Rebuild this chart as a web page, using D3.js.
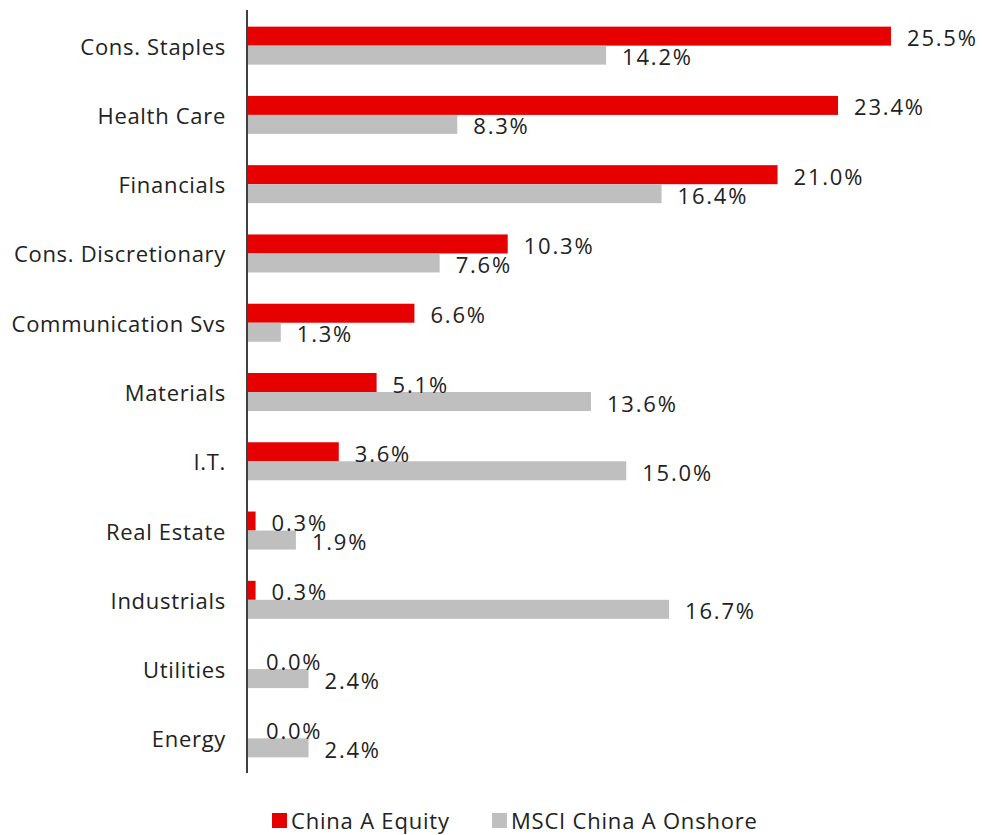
<!DOCTYPE html>
<html>
<head>
<meta charset="utf-8">
<script src="https://cdn.jsdelivr.net/npm/d3@7"></script>
<style>
  body { margin: 0; background: #fff; }
  text { font-family: "Open Sans", sans-serif; fill: #222; }
</style>
</head>
<body>
<div id="chart"></div>
<script>
// sector weights, fund vs benchmark
let categories = ["Cons. Staples", "Health Care", "Financials", "Cons. Discretionary",
    "Communication Svs", "Materials", "I.T.", "Real Estate", "Industrials", "Utilities", "Energy"];
let seriesNames = ["China A Equity", "MSCI China A Onshore"];
let fundValues = [25.5, 23.4, 21.0, 10.3, 6.6, 5.1, 3.6, 0.3, 0.3, 0.0, 0.0];
let benchValues = [14.2, 8.3, 16.4, 7.6, 1.3, 13.6, 15.0, 1.9, 16.7, 2.4, 2.4];
let colors = ["#e60000", "#bfbfbf"];

let width = 982, height = 835;
let svg = d3.select("#chart").append("svg")
    .attr("width", width)
    .attr("height", height);

let x = d3.scaleLinear().domain([0, 25.5]).range([248, 891]);
let y = d3.scaleBand().domain(categories).range([11, 773]);
let barH = 19;
let sub = d3.scaleBand().domain(seriesNames).range([-barH, barH]);

let rows = categories.map((c, i) => ({ cat: c, vals: [fundValues[i], benchValues[i]] }));

let groups = svg.selectAll("g.row")
    .data(rows)
    .enter()
    .append("g")
    .attr("class", "row")
    .attr("transform", d => `translate(0,${y(d.cat) + y.bandwidth() / 2})`);

groups.selectAll("rect")
    .data(d => d.vals.map((v, j) => ({ name: seriesNames[j], v: v, j: j })))
    .enter()
    .append("rect")
    .attr("x", x(0))
    .attr("y", d => sub(d.name))
    .attr("width", d => x(d.v) - x(0))
    .attr("height", sub.bandwidth())
    .attr("fill", d => colors[d.j]);

groups.selectAll("text.val")
    .data(d => d.vals.map((v, j) => ({ name: seriesNames[j], v: v })))
    .enter()
    .append("text")
    .attr("class", "val")
    .attr("x", d => x(d.v) + (d.v === 0 ? 18 : 16))
    .attr("y", d => sub(d.name) + sub.bandwidth() / 2 + 1)
    .attr("dominant-baseline", "central")
    .attr("font-size", 22)
    .attr("letter-spacing", 1.8)
    .text(d => d.v.toFixed(1) + "%");

// category labels
groups.append("text")
    .attr("x", 226)
    .attr("y", 0)
    .attr("text-anchor", "end")
    .attr("dominant-baseline", "central")
    .attr("font-size", 22)
    .attr("letter-spacing", 0.7)
    .text(d => d.cat);

// vertical axis line
svg.append("line")
    .attr("x1", 247).attr("x2", 247)
    .attr("y1", 10).attr("y2", 773)
    .attr("stroke", "#404040")
    .attr("stroke-width", 2);

// legend
let legendX = [272, 492];
let legend = svg.selectAll("g.legend")
    .data(seriesNames)
    .enter()
    .append("g")
    .attr("class", "legend")
    .attr("transform", (d, i) => `translate(${legendX[i]},819)`);

legend.append("rect")
    .attr("x", 0).attr("y", -6)
    .attr("width", 15).attr("height", 15)
    .attr("fill", (d, i) => colors[i]);

legend.append("text")
    .attr("x", 19)
    .attr("y", 1)
    .attr("dominant-baseline", "central")
    .attr("font-size", 22)
    .attr("letter-spacing", 0.8)
    .text(d => d);
</script>
</body>
</html>
